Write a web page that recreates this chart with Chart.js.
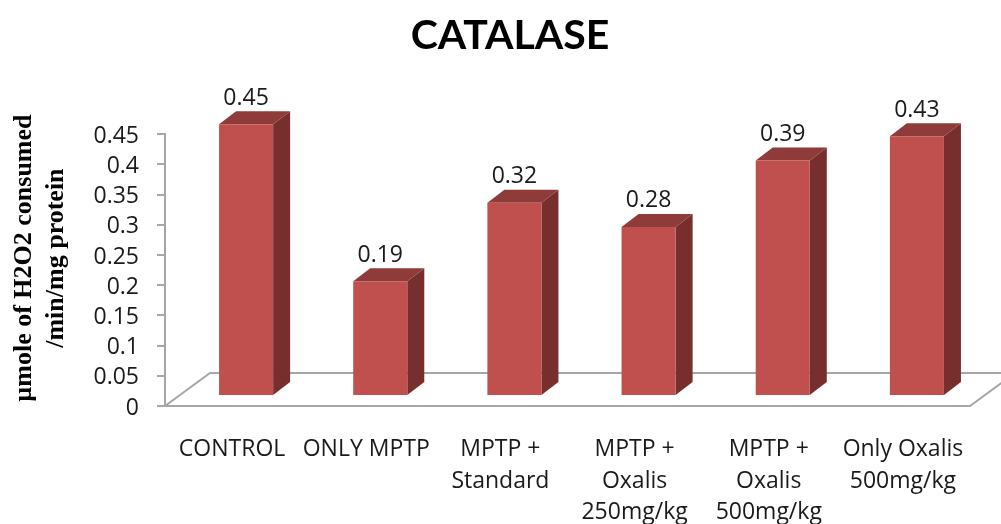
<!DOCTYPE html>
<html><head><meta charset="utf-8">
<script src="https://cdn.jsdelivr.net/npm/chart.js@4"></script>
<style>html,body{margin:0;padding:0;background:#fff}canvas{display:block}</style>
</head><body><canvas id="c" width="1001" height="524"></canvas>
<script>
const categories = ["CONTROL","ONLY MPTP",["MPTP +","Standard"],["MPTP +","Oxalis","250mg/kg"],["MPTP +","Oxalis","500mg/kg"],["Only Oxalis","500mg/kg"]];
const values = [0.45,0.19,0.32,0.28,0.39,0.43];
const yTitle = ["µmole of H2O2 consumed","/min/mg protein"];
const title = "CATALASE";
const FRONT="#c0504d", TOP="#8e3b39", SIDE="#772f2e", AXIS="#a6a6a6", TEXT="#1a1a1a";
const FLOOR={dx:45,dy:-33}, INSET={dx:14,dy:-10}, DEPTH={dx:17,dy:-13};
function poly(ctx,pts,color){ctx.fillStyle=color;ctx.beginPath();pts.forEach((p,i)=>i?ctx.lineTo(p[0],p[1]):ctx.moveTo(p[0],p[1]));ctx.closePath();ctx.fill();}
const threeD={id:'threeD',
 afterLayout(chart){chart.titleBlock.left=50;},
 beforeDatasetsDraw(chart){
  const {ctx,chartArea:a,scales:{y}}=chart, y0=y.getPixelForValue(0);
  ctx.save();ctx.strokeStyle=AXIS;ctx.lineWidth=2;ctx.beginPath();
  ctx.moveTo(a.left,y0);ctx.lineTo(a.left+FLOOR.dx,y0+FLOOR.dy);ctx.lineTo(a.right+FLOOR.dx,y0+FLOOR.dy);ctx.lineTo(a.right,y0);
  ctx.stroke();ctx.restore();
 },
 beforeDatasetDraw(chart){
  const {ctx}=chart, meta=chart.getDatasetMeta(0);
  ctx.save();ctx.translate(INSET.dx,INSET.dy);
  meta.data.forEach(b=>{
   const l=b.x-b.width/2,r=b.x+b.width/2,t=b.y,bt=b.base,d=DEPTH;
   poly(ctx,[[r,t],[r+d.dx,t+d.dy],[r+d.dx,bt+d.dy],[r,bt]],SIDE);
   poly(ctx,[[l,t],[l+d.dx,t+d.dy],[r+d.dx,t+d.dy],[r,t]],TOP);
  });
 },
 afterDatasetDraw(chart){
  const {ctx}=chart, meta=chart.getDatasetMeta(0);
  ctx.restore();
  ctx.save();ctx.font='23px "Open Sans"';ctx.fillStyle=TEXT;ctx.textAlign='center';ctx.textBaseline='middle';
  meta.data.forEach((b,i)=>ctx.fillText(String(values[i]),b.x+INSET.dx,b.y+INSET.dy-26));
  ctx.restore();
 },
 afterDraw(chart){
  const {ctx,scales:{y}}=chart;
  ctx.save();ctx.font='bold 26px "Liberation Serif"';ctx.fillStyle="#000";ctx.textAlign='center';ctx.textBaseline='alphabetic';
  const cy=(y.top+y.bottom)/2-12;
  yTitle.forEach((line,i)=>{ctx.save();ctx.translate(31+i*32,cy);ctx.rotate(-Math.PI/2);ctx.fillText(line,0,0);ctx.restore();});
  ctx.restore();
 }
};
new Chart(document.getElementById('c'),{
 type:'bar',
 data:{labels:categories,datasets:[{data:values,backgroundColor:FRONT,barPercentage:0.403,categoryPercentage:1,clip:false}]},
 plugins:[threeD],
 options:{
  responsive:false,animation:false,
  layout:{padding:{left:12,right:31,top:0,bottom:0}},
  plugins:{legend:{display:false},tooltip:{enabled:false},
   title:{display:true,text:title,color:"#000",font:{family:'Lato',size:41,weight:'bold'},padding:{top:11,bottom:74}}},
  scales:{
   x:{grid:{display:false},border:{color:AXIS,width:2},
      ticks:{color:TEXT,font:{family:'"Open Sans"',size:23,lineHeight:1.39},padding:19,maxRotation:0,minRotation:0,autoSkip:false},
      afterFit(s){s.height=118;}},
   y:{min:0,max:0.45,border:{color:AXIS,width:2},
      grid:{drawOnChartArea:false,color:AXIS,lineWidth:2,tickLength:8},
      ticks:{stepSize:0.05,autoSkip:false,color:TEXT,font:{family:'"Open Sans"',size:23},padding:18,labelOffset:2,callback:v=>String(+v.toFixed(2))},
      afterFit(s){s.width=153;}}
  }
 }
});
</script></body></html>
